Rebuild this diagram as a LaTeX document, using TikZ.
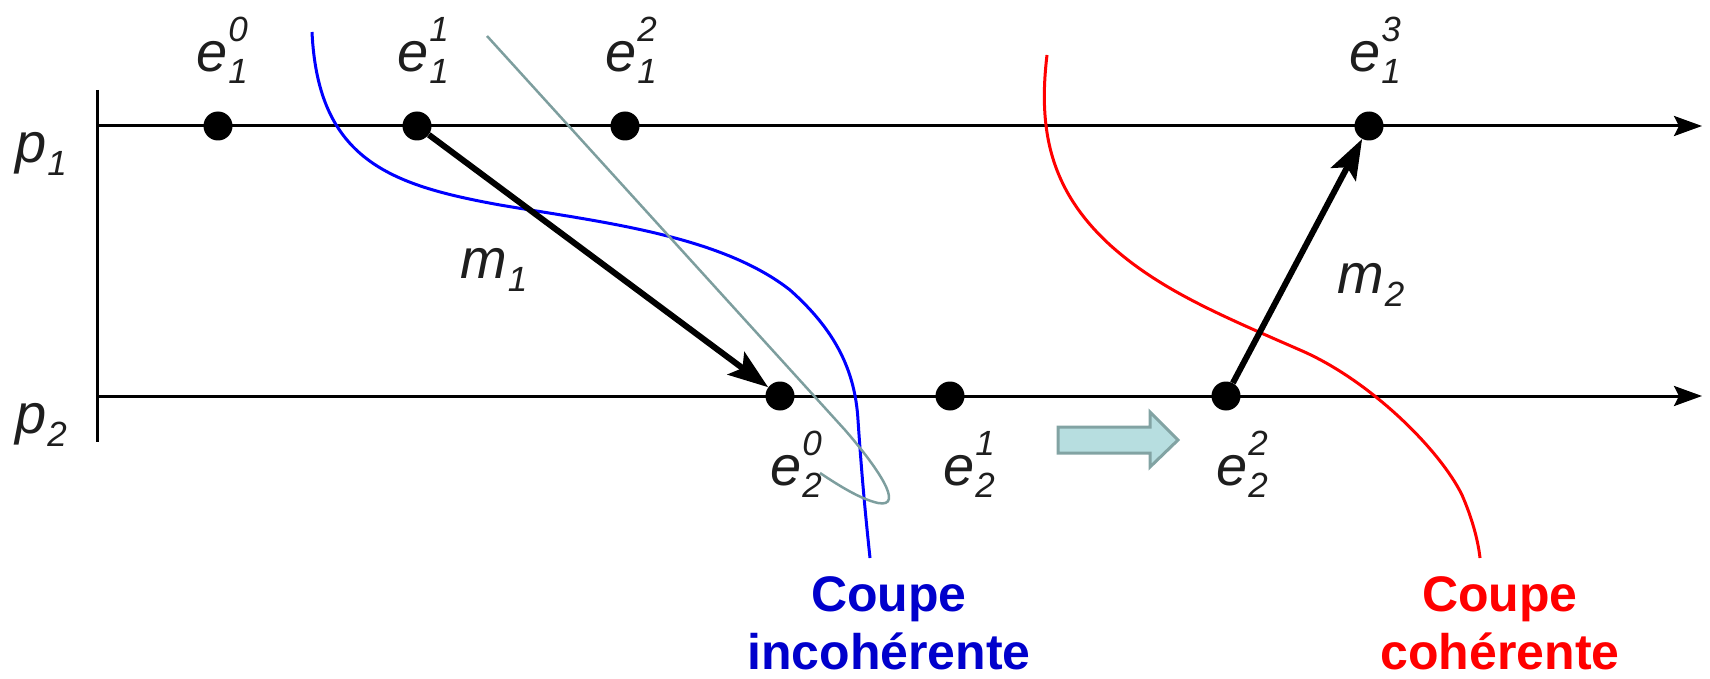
\documentclass[tikz,border=0pt]{standalone}
\usepackage{fontspec}
\setmainfont{Liberation Sans}
\usetikzlibrary{arrows.meta}
\definecolor{cutblue}{RGB}{0,0,255}
\definecolor{lblblue}{RGB}{0,0,204}
\definecolor{cutred}{RGB}{255,0,0}
\definecolor{graycurve}{RGB}{125,158,158}
\definecolor{arrfill}{RGB}{183,222,224}
\definecolor{arrdraw}{RGB}{130,163,163}
\definecolor{txtgray}{RGB}{30,30,30}
\newcommand{\msz}{\fontsize{56}{56}\selectfont}
\newcommand{\ssz}{\fontsize{35}{35}\selectfont}
\newcommand{\evt}[3]{\textit{#1}\kern1pt\rlap{\raisebox{30pt}{\ssz\textit{#3}}}\raisebox{-12pt}{\ssz\textit{#2}}}
\newcommand{\sbt}[2]{\textit{#1}\kern1pt\raisebox{-13pt}{\ssz\textit{#2}}}
\tikzset{
  dot/.style={circle, fill=black, inner sep=0pt, minimum size=29pt},
  lbl/.style={anchor=base west, inner sep=0pt, font=\msz, text=txtgray},
  procline/.style={line width=3pt, -{Stealth[length=28pt,width=20pt,inset=5pt]}},
  msgarrow/.style={line width=6pt, -{Stealth[length=40pt,width=28pt,inset=8pt]}},
  cutlabel/.style={anchor=north, inner sep=0pt, align=center, font=\fontsize{50}{58}\selectfont\bfseries},
}
\begin{document}
\begin{tikzpicture}[x=1pt,y=-1pt]
\useasboundingbox (0,0) rectangle (1710,679);
% axis
\coordinate (vt) at (97,90);
\coordinate (vb) at (97,442);
\draw[line width=3pt] (vt) -- (vb);
\coordinate (p1s) at (97,126);
\coordinate (p1e) at (1702,126);
\coordinate (p2s) at (97,396);
\coordinate (p2e) at (1702,396);
\draw[procline] (p1s) -- (p1e);
\draw[procline] (p2s) -- (p2e);
% cuts
\draw[cutblue, line width=3pt] (312,32) .. controls (318,160) and (390,185) .. (500,205) .. controls (600,222) and (720,235) .. (790,290) .. controls (835,330) and (855,370) .. (858,420) .. controls (862,480) and (866,520) .. (870,558);
\draw[cutred, line width=3pt] (1047,55) .. controls (1038,130) and (1050,190) .. (1110,245) .. controls (1160,290) and (1220,315) .. (1300,350) .. controls (1370,380) and (1440,450) .. (1462,495) .. controls (1472,518) and (1478,540) .. (1480,558);
\draw[graycurve, line width=2.5pt] (487,36) -- (845,430) .. controls (878,468) and (905,508) .. (878,503) .. controls (860,499) and (838,485) .. (820,473);
% events
\node[dot] (e10) at (218,126) {};
\node[dot] (e11) at (417,126) {};
\node[dot] (e12) at (625,126) {};
\node[dot] (e13) at (1369,126) {};
\node[dot] (e20) at (780,396) {};
\node[dot] (e21) at (950,396) {};
\node[dot] (e22) at (1226,396) {};
% messages
\draw[msgarrow] (e11) -- (e20);
\draw[msgarrow] (e22) -- (e13);
% block arrow
\draw[arrdraw, fill=arrfill, line width=3pt, line join=miter] (1058,427) -- (1150,427) -- (1150,412) -- (1178,440) -- (1150,467) -- (1150,453) -- (1058,453) -- cycle;
% labels
\node[lbl] (l10) at (196,72) {\evt{e}{1}{0}};
\node[lbl] (l11) at (397,72) {\evt{e}{1}{1}};
\node[lbl] (l12) at (605,72) {\evt{e}{1}{2}};
\node[lbl] (l13) at (1349,72) {\evt{e}{1}{3}};
\node[lbl] (l20) at (770,485) {\evt{e}{2}{0}};
\node[lbl] (l21) at (943,485) {\evt{e}{2}{1}};
\node[lbl] (l22) at (1216,485) {\evt{e}{2}{2}};
\node[lbl] (lm1) at (460,278) {\sbt{m}{1}};
\node[lbl] (lm2) at (1337,293) {\sbt{m}{2}};
\node[lbl] (lp1) at (15,163) {\sbt{p}{1}};
\node[lbl] (lp2) at (15,433) {\sbt{p}{2}};
\node[cutlabel, text=lblblue] (cb) at (889,576) {Coupe\\incohérente};
\node[cutlabel, text=cutred] (cr) at (1500,576) {Coupe\\cohérente};
\end{tikzpicture}
\end{document}
